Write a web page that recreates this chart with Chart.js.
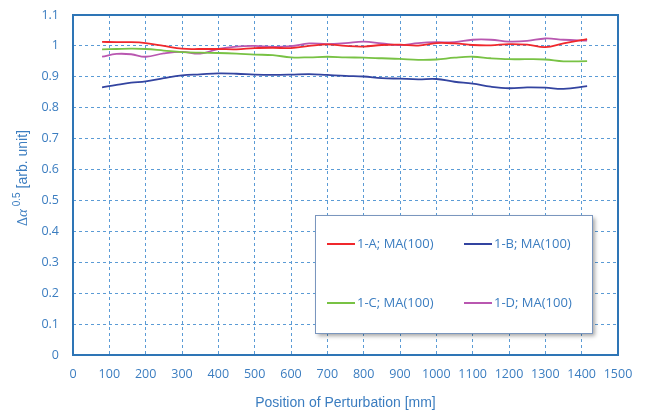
<!DOCTYPE html>
<html>
<head>
<meta charset="utf-8">
<script src="https://cdn.jsdelivr.net/npm/chart.js@4/dist/chart.umd.min.js"></script>
<style>
  html,body{margin:0;padding:0;background:#fff;}
  #wrap{width:645px;height:416px;}
</style>
</head>
<body>
<div id="wrap"><canvas id="chart" width="645" height="416"></canvas></div>
<script>
// Data (position in mm, value in arb. unit)
const positions = [80,120,160,200,250,300,350,400,450,500,550,600,650,700,750,800,850,900,950,1000,1050,1100,1150,1200,1250,1300,1350,1415];
const series1A = [1.013,1.012,1.012,1.009,1.0,0.991,0.99,0.99,0.989,0.993,0.994,0.993,1.0,1.005,1.0,0.998,1.003,1.004,1.001,1.009,1.008,1.003,1.002,1.006,1.004,0.996,1.008,1.022];
const series1B = [0.866,0.874,0.881,0.885,0.896,0.905,0.908,0.911,0.91,0.907,0.906,0.907,0.909,0.906,0.903,0.901,0.896,0.894,0.892,0.893,0.884,0.878,0.868,0.863,0.866,0.865,0.861,0.87];
const series1C = [0.989,0.99,0.991,0.99,0.985,0.98,0.978,0.977,0.975,0.972,0.97,0.963,0.963,0.965,0.963,0.962,0.96,0.958,0.955,0.956,0.962,0.965,0.96,0.957,0.957,0.956,0.95,0.951];
const series1D = [0.965,0.974,0.973,0.965,0.976,0.981,0.975,0.99,0.998,1.0,0.997,0.999,1.008,1.006,1.009,1.014,1.008,1.003,1.009,1.012,1.012,1.02,1.02,1.014,1.016,1.024,1.02,1.017];

const labels = ["1-A; MA(100)","1-B; MA(100)","1-C; MA(100)","1-D; MA(100)"];
const colors = ["#f0282c","#3344a0","#78c244","#b957b0"];
const allSeries = [series1A, series1B, series1C, series1D];

const textBlue = "#3b7dc0";
const gridBlue = "#5b9bd5";
const tickFont = {family:"'Open Sans', Lato, sans-serif", size:12.5};

function toPoints(vals){ return vals.map((v,i)=>({x:positions[i], y:v})); }

// Rahmen um die Zeichenfläche
const frame = {
  id:"frame",
  afterDatasetsDraw(chart){
    const {ctx, chartArea:a} = chart;
    ctx.save();
    ctx.strokeStyle = "#2e75b6";
    ctx.lineWidth = 2;
    ctx.strokeRect(a.left, a.top, a.right-a.left, a.bottom-a.top);
    ctx.restore();
  }
};

// Y-Achsentitel mit Hochstellung
const yTitle = {
  id:"yTitle",
  afterDraw(chart){
    const ctx = chart.ctx;
    const parts = [
      {t:"\u0394", f:"14px 'Liberation Serif', serif", dy:0},
      {t:"\u03B1", f:"italic 15px 'Liberation Serif', serif", dy:0},
      {t:" 0.5", f:"10px 'Liberation Sans', sans-serif", dy:-7},
      {t:" [arb. unit]", f:"14px 'Liberation Sans', sans-serif", dy:0}
    ];
    ctx.save();
    let w = 0;
    parts.forEach(p=>{ ctx.font = p.f; p.w = ctx.measureText(p.t).width; w += p.w; });
    ctx.translate(27, 178);
    ctx.rotate(-Math.PI/2);
    ctx.fillStyle = textBlue;
    ctx.textBaseline = "alphabetic";
    let x = -w/2;
    parts.forEach(p=>{ ctx.font = p.f; ctx.fillText(p.t, x, p.dy); x += p.w; });
    ctx.restore();
  }
};

// Legende als Kasten im Diagramm
const boxLegend = {
  id:"boxLegend",
  afterDraw(chart){
    const ctx = chart.ctx;
    const bx = 315, by = 215, bw = 277, bh = 118;
    ctx.save();
    ctx.shadowColor = "rgba(0,0,0,0.35)";
    ctx.shadowBlur = 4;
    ctx.shadowOffsetX = 3;
    ctx.shadowOffsetY = 3;
    ctx.fillStyle = "#fff";
    ctx.fillRect(bx, by, bw, bh);
    ctx.restore();
    ctx.save();
    ctx.strokeStyle = "#7a96be";
    ctx.lineWidth = 1;
    ctx.strokeRect(bx+0.5, by+0.5, bw, bh);
    const cols = [327, 464], rows = [244, 303];
    ctx.font = "13px 'Open Sans', Lato, sans-serif";
    ctx.textBaseline = "middle";
    chart.data.datasets.forEach((ds,i)=>{
      const x = cols[i%2], y = rows[Math.floor(i/2)];
      ctx.strokeStyle = ds.borderColor;
      ctx.lineWidth = 2;
      ctx.beginPath(); ctx.moveTo(x, y); ctx.lineTo(x+28, y); ctx.stroke();
      ctx.fillStyle = textBlue;
      ctx.fillText(ds.label, x+30, y);
    });
    ctx.restore();
  }
};

new Chart(document.getElementById("chart"), {
  type:"line",
  data:{
    datasets: allSeries.map((s,i)=>({
      label: labels[i],
      data: toPoints(s),
      borderColor: colors[i],
      borderWidth: 1.8,
      pointRadius: 0,
      tension: 0.4,
      fill: false
    }))
  },
  options:{
    responsive:false,
    animation:false,
    layout:{padding:{top:15, right:27, left:0, bottom:0}},
    plugins:{legend:{display:false}, tooltip:{enabled:false}},
    scales:{
      x:{
        type:"linear", min:0, max:1500,
        ticks:{stepSize:100, color:textBlue, font:tickFont, maxRotation:0, padding:12,
               callback:v=>String(v)},
        grid:{color:gridBlue, lineWidth:1, drawTicks:false},
        border:{display:false, dash:[3,3]},
        title:{display:true, text:"Position of Perturbation [mm]", color:textBlue,
               font:{family:"'Liberation Sans', Arial, sans-serif", size:14}, padding:{top:6}},
        afterFit(s){ s.height = 61; }
      },
      y:{
        min:0, max:1.1,
        ticks:{stepSize:0.1, color:textBlue, font:tickFont, padding:14,
               callback:v=>Number(v.toFixed(1)).toString()},
        grid:{color:gridBlue, lineWidth:1, drawTicks:false},
        border:{display:false, dash:[3,3]},
        afterFit(s){ s.width = 73; s.paddingTop = 0; s.paddingBottom = 0; }
      }
    }
  },
  plugins:[frame, yTitle, boxLegend]
});
</script>
</body>
</html>
